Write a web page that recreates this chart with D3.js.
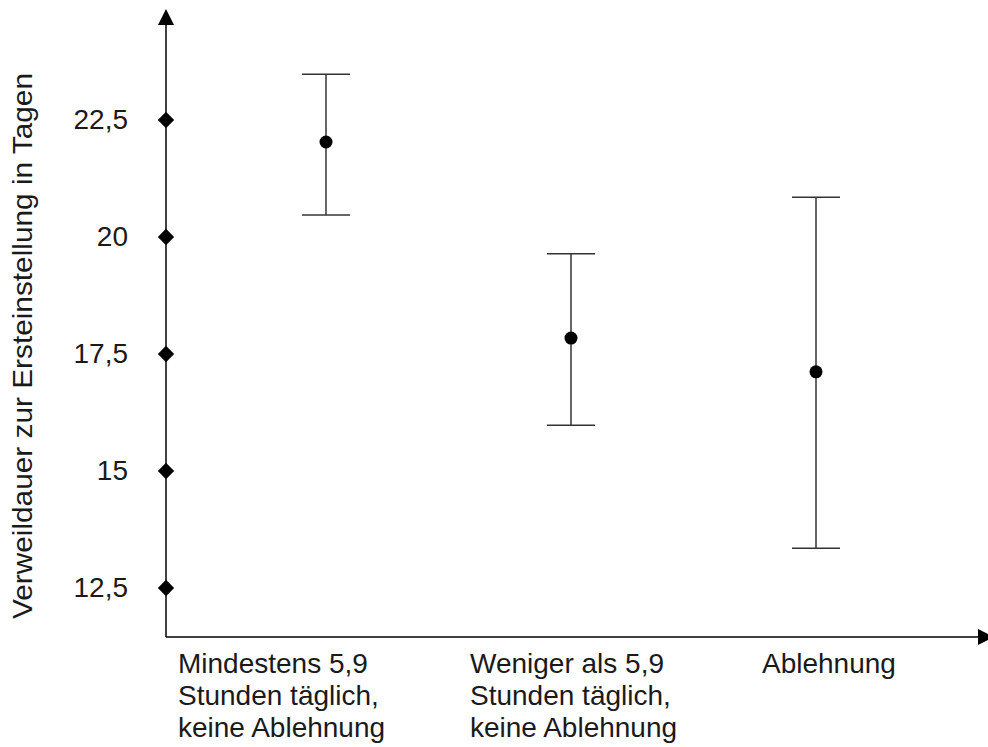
<!DOCTYPE html>
<html>
<head>
<meta charset="utf-8">
<script src="https://cdn.jsdelivr.net/npm/d3@7"></script>
<style>
  body { margin: 0; background: #fff; }
  text { font-family: Arial, "Liberation Sans", sans-serif; fill: #1a1a1a; }
</style>
</head>
<body>
<div id="chart"></div>
<script>
// Kategorien (mehrzeilige Beschriftung)
var kategorien = [
    ['Mindestens 5,9', 'Stunden täglich,', 'keine Ablehnung'],
    ['Weniger als 5,9', 'Stunden täglich,', 'keine Ablehnung'],
    ['Ablehnung']
];
var mittelwerte = [22.03, 17.84, 17.12];   // Punkt
var obereGrenze = [23.48, 19.64, 20.85];   // obere Fehlergrenze
var untereGrenze = [20.47, 15.98, 13.35];  // untere Fehlergrenze
var yTicks = [12.5, 15, 17.5, 20, 22.5];
var yTitel = 'Verweildauer zur Ersteinstellung in Tagen';

var breite = 988, hoehe = 747;
var achseX = 166;          // Lage der y-Achse
var achseY = 637;          // Lage der x-Achse

var svg = d3.select('#chart').append('svg')
    .attr('width', breite)
    .attr('height', hoehe);

var y = d3.scaleLinear().domain([12.5, 22.5]).range([588, 120]);
var x = d3.scalePoint().domain(d3.range(kategorien.length)).range([326, 816]);
var xText = d3.scalePoint().domain(d3.range(kategorien.length)).range([178, 762]);

var de = d3.formatLocale({decimal: ',', thousands: '.', grouping: [3], currency: ['', ' €']});
var fmt = function(d) { return Number.isInteger(d) ? de.format('d')(d) : de.format('.1f')(d); };

// Pfeilspitzen
var defs = svg.append('defs');
defs.append('marker')
    .attr('id', 'pfeil')
    .attr('viewBox', '0 0 10 10')
    .attr('refX', 0).attr('refY', 5)
    .attr('markerWidth', 16).attr('markerHeight', 16)
    .attr('markerUnits', 'userSpaceOnUse')
    .attr('orient', 'auto')
    .append('path')
    .attr('d', 'M0,0 L10,5 L0,10 Z')
    .attr('fill', '#000');

// y-Achse mit Pfeil
svg.append('line')
    .attr('x1', achseX).attr('x2', achseX)
    .attr('y1', achseY).attr('y2', 25)
    .attr('stroke', '#000').attr('stroke-width', 1.5)
    .attr('marker-end', 'url(#pfeil)');

// x-Achse mit Pfeil
svg.append('line')
    .attr('x1', achseX).attr('x2', 978)
    .attr('y1', achseY).attr('y2', achseY)
    .attr('stroke', '#000').attr('stroke-width', 1.5)
    .attr('marker-end', 'url(#pfeil)');

// Tick-Beschriftungen über d3-Achse
var yAchse = svg.append('g')
    .attr('transform', 'translate(' + achseX + ',0)')
    .call(d3.axisLeft(y).tickValues(yTicks).tickFormat(fmt).tickSize(0).tickPadding(38));
yAchse.select('.domain').remove();
yAchse.selectAll('text')
    .attr('font-size', 28)
    .attr('font-family', 'Arial, "Liberation Sans", sans-serif')
    .attr('fill', '#1a1a1a');

// Rauten als Tick-Markierungen
svg.append('g').selectAll('path')
    .data(yTicks)
    .enter()
    .append('path')
    .attr('d', d3.symbol(d3.symbolDiamond2, 170))
    .attr('transform', function(d) { return 'translate(' + achseX + ',' + y(d) + ')'; })
    .attr('fill', '#000');

// Fehlerbalken
var balken = svg.append('g').attr('stroke', '#333').attr('stroke-width', 1.5);
balken.selectAll('line.senk')
    .data(mittelwerte)
    .enter()
    .append('line')
    .attr('class', 'senk')
    .attr('x1', function(d, i) { return x(i); })
    .attr('x2', function(d, i) { return x(i); })
    .attr('y1', function(d, i) { return y(obereGrenze[i]); })
    .attr('y2', function(d, i) { return y(untereGrenze[i]); });

[obereGrenze, untereGrenze].forEach(function(werte) {
    balken.append('g').selectAll('line')
        .data(werte)
        .enter()
        .append('line')
        .attr('x1', function(d, i) { return x(i) - 24; })
        .attr('x2', function(d, i) { return x(i) + 24; })
        .attr('y1', function(d) { return y(d); })
        .attr('y2', function(d) { return y(d); });
});

// Mittelwerte
svg.append('g').selectAll('circle')
    .data(mittelwerte)
    .enter()
    .append('circle')
    .attr('cx', function(d, i) { return x(i); })
    .attr('cy', function(d) { return y(d); })
    .attr('r', 6.5)
    .attr('fill', '#000');

// Kategorienbeschriftung
var kat = svg.append('g').selectAll('text')
    .data(kategorien)
    .enter()
    .append('text')
    .attr('font-size', 28)
    .attr('x', function(d, i) { return xText(i); })
    .attr('y', 673);
kat.selectAll('tspan')
    .data(function(d, i) { return d.map(function(z) { return {z: z, i: i}; }); })
    .enter()
    .append('tspan')
    .attr('x', function(d) { return xText(d.i); })
    .attr('dy', function(d, j) { return j === 0 ? 0 : 32; })
    .text(function(d) { return d.z; });

// Achsentitel
svg.append('text')
    .attr('transform', 'translate(32,346) rotate(-90)')
    .attr('text-anchor', 'middle')
    .attr('font-size', 28)
    .attr('textLength', 546)
    .attr('lengthAdjust', 'spacingAndGlyphs')
    .text(yTitel);
</script>
</body>
</html>
